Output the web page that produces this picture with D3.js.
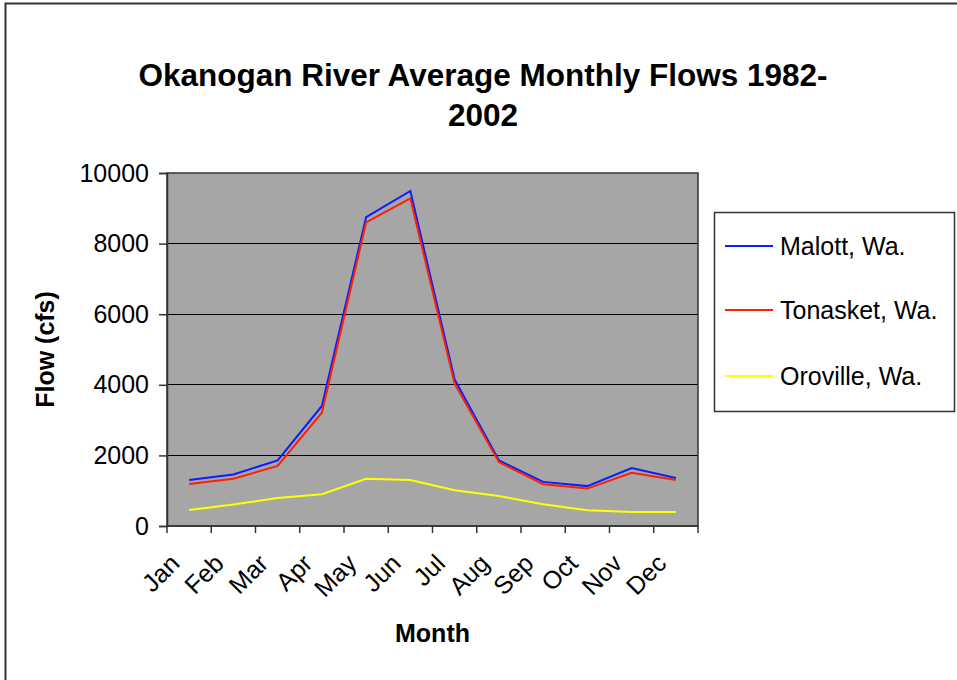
<!DOCTYPE html>
<html>
<head>
<meta charset="utf-8">
<script src="https://cdn.jsdelivr.net/npm/d3@7/dist/d3.min.js"></script>
<style>
  html, body { margin: 0; padding: 0; background: #fff; }
  svg { display: block; font-family: Arial, "Liberation Sans", sans-serif; }
</style>
</head>
<body>
<svg id="chart" width="957" height="680"></svg>
<script>
const months = ["Jan","Feb","Mar","Apr","May","Jun","Jul","Aug","Sep","Oct","Nov","Dec"];
const malott   = [1300, 1460, 1860, 3400, 8750, 9490, 4150, 1860, 1250, 1130, 1640, 1360];
const tonasket = [1190, 1340, 1700, 3210, 8600, 9280, 4030, 1810, 1180, 1060, 1510, 1300];
const oroville = [450, 610, 790, 900, 1340, 1300, 1010, 850, 615, 445, 400, 395];
const seriesNames = ["Malott, Wa.", "Tonasket, Wa.", "Oroville, Wa."];
const yTicks = [0, 2000, 4000, 6000, 8000, 10000];

const series = [
  {name: seriesNames[0], values: malott,   color: "#0a1eff"},
  {name: seriesNames[1], values: tonasket, color: "#ff2000"},
  {name: seriesNames[2], values: oroville, color: "#ffff00"}
];

const svg = d3.select("#chart");
const pL = 167, pR = 698, pT = 173, pB = 526;

// outer chart border
svg.append("rect").attr("x", 5.5).attr("y", 3.5).attr("width", 1000).attr("height", 1000)
  .attr("fill", "none").attr("stroke", "#333").attr("stroke-width", 2);

const x = d3.scaleBand().domain(months).range([pL, pR]).padding(0);
const y = d3.scaleLinear().domain([0, 10000]).range([pB, pT]);

// plot background
svg.append("rect").attr("x", pL).attr("y", pT).attr("width", pR - pL).attr("height", pB - pT)
  .attr("fill", "#a6a6a6");

// gridlines
svg.append("g").selectAll("line").data(yTicks.filter(d => d > 0 && d < 10000)).join("line")
  .attr("x1", pL).attr("x2", pR)
  .attr("y1", d => y(d)).attr("y2", d => y(d))
  .attr("stroke", "#000").attr("stroke-width", 1).attr("shape-rendering", "crispEdges");

// plot border
svg.append("rect").attr("x", pL).attr("y", pT).attr("width", pR - pL).attr("height", pB - pT)
  .attr("fill", "none").attr("stroke", "#333").attr("stroke-width", 1.5);

// y axis
const yAxis = d3.axisLeft(y).tickValues(yTicks).tickSize(8).tickPadding(10).tickFormat(d3.format("d"));
const gy = svg.append("g").attr("transform", `translate(${pL},0)`).call(yAxis);
gy.select(".domain").attr("stroke", "#333").attr("stroke-width", 1.5);
gy.selectAll(".tick line").attr("stroke", "#333").attr("stroke-width", 1.5);
gy.selectAll(".tick text").attr("font-size", 25).attr("font-family", "Arial, 'Liberation Sans', sans-serif").attr("fill", "#000");

// x axis ticks at band boundaries
const boundaries = months.map(m => x(m)).concat([pR]);
svg.append("g").selectAll("line").data(boundaries).join("line")
  .attr("x1", d => d).attr("x2", d => d).attr("y1", pB).attr("y2", pB + 7)
  .attr("stroke", "#333").attr("stroke-width", 1.5);
svg.append("line").attr("x1", pL).attr("x2", pR).attr("y1", pB).attr("y2", pB)
  .attr("stroke", "#333").attr("stroke-width", 1.5);

// x labels rotated
svg.append("g").selectAll("text").data(months).join("text")
  .attr("transform", d => `translate(${x(d) + x.bandwidth() / 2 - 8},${pB + 39}) rotate(-45)`)
  .attr("text-anchor", "end").attr("font-size", 25).attr("fill", "#000")
  .text(d => d);

// lines
const line = d3.line().x((d, i) => x(months[i]) + x.bandwidth() / 2).y(d => y(d));
svg.append("g").selectAll("path").data(series).join("path")
  .attr("d", d => line(d.values)).attr("fill", "none")
  .attr("stroke", d => d.color).attr("stroke-width", 2).attr("stroke-linejoin", "miter");

// titles
const title = svg.append("text").attr("text-anchor", "middle").attr("font-size", 31.5).attr("font-weight", "bold");
title.append("tspan").attr("x", 483).attr("y", 86).text("Okanogan River Average Monthly Flows 1982-");
title.append("tspan").attr("x", 483).attr("y", 126).text("2002");

svg.append("text").attr("x", (pL + pR) / 2).attr("y", 642).attr("text-anchor", "middle")
  .attr("font-size", 25).attr("font-weight", "bold").text("Month");
svg.append("text").attr("transform", `translate(54,${(pT + pB) / 2}) rotate(-90)`).attr("text-anchor", "middle")
  .attr("font-size", 25).attr("font-weight", "bold").text("Flow (cfs)");

// legend
const lg = svg.append("g");
lg.append("rect").attr("x", 714.5).attr("y", 212.5).attr("width", 240).attr("height", 199)
  .attr("fill", "#fff").attr("stroke", "#333").attr("stroke-width", 1.5);
const rows = [246, 310, 376];
const items = lg.selectAll("g.item").data(series).join("g").attr("class", "item")
  .attr("transform", (d, i) => `translate(0,${rows[i]})`);
items.append("line").attr("x1", 725).attr("x2", 773).attr("y1", 0).attr("y2", 0)
  .attr("stroke", d => d.color).attr("stroke-width", 2);
items.append("text").attr("x", 780).attr("y", 0).attr("dy", "0.35em").attr("font-size", 25).text(d => d.name);
</script>
</body>
</html>
